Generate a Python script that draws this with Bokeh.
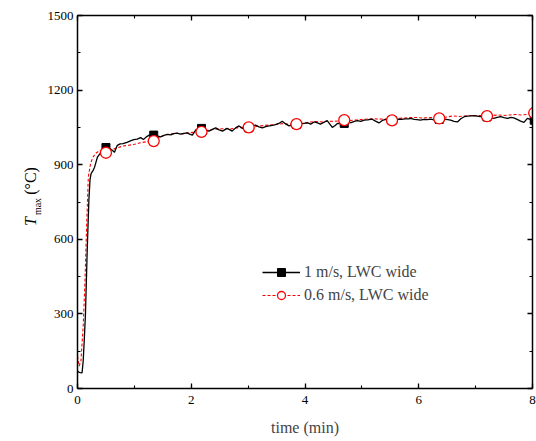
import math
from bokeh.plotting import figure
from bokeh.layouts import row
from bokeh.models import (LinearAxis, SingleIntervalTicker, Range1d, Legend,
                          LegendItem, Label)
from bokeh.embed import file_html
from bokeh.resources import INLINE

# ---- data ----
t_black = [0.00, 0.02, 0.05, 0.08, 0.10, 0.12, 0.14, 0.17, 0.20, 0.22, 0.24, 0.27,
           0.30, 0.35, 0.40, 0.45, 0.50, 0.55, 0.60, 0.65, 0.70, 0.75, 0.80, 0.87,
           0.93, 0.99, 1.05, 1.11, 1.16, 1.21, 1.26, 1.34, 1.40, 1.46, 1.52, 1.58,
           1.64, 1.69, 1.75, 1.81, 1.87, 1.93, 1.98, 2.02, 2.08, 2.16, 2.24, 2.31,
           2.37, 2.43, 2.49, 2.55, 2.63, 2.68, 2.72, 2.78, 2.84, 2.90, 2.95, 3.01,
           3.07, 3.13, 3.19, 3.25, 3.31, 3.37, 3.43, 3.48, 3.54, 3.60, 3.66, 3.72,
           3.78, 3.85, 3.92, 3.98, 4.05, 4.10, 4.16, 4.22, 4.27, 4.33, 4.39, 4.44,
           4.48, 4.53, 4.57, 4.63, 4.70, 4.76, 4.81, 4.87, 4.92, 4.98, 5.04, 5.10,
           5.18, 5.24, 5.30, 5.36, 5.42, 5.47, 5.52, 5.58, 5.64, 5.70, 5.76, 5.82,
           5.86, 5.92, 5.97, 6.03, 6.09, 6.15, 6.21, 6.27, 6.33, 6.39, 6.45, 6.51,
           6.56, 6.62, 6.68, 6.74, 6.80, 6.86, 6.92, 6.97, 7.03, 7.09, 7.15, 7.20,
           7.26, 7.32, 7.38, 7.44, 7.50, 7.56, 7.62, 7.67, 7.73, 7.79, 7.85, 7.91,
           7.96, 8.00]
T_black = [70, 66, 64, 63, 110, 200, 300, 550, 757, 840, 865, 875,
           890, 930, 946, 960, 970, 968, 960, 950, 978, 984, 985, 990,
           996, 1001, 1003, 1009, 1001, 1012, 1019, 1020, 1016, 1012, 1018, 1022,
           1020, 1025, 1027, 1023, 1026, 1028, 1022, 1019, 1040, 1046, 1040, 1035,
           1042, 1048, 1040, 1035, 1046, 1040, 1035, 1048, 1056, 1046, 1043, 1050,
           1055, 1059, 1052, 1048, 1053, 1056, 1058, 1061, 1066, 1075, 1064, 1056,
           1060, 1062, 1064, 1066, 1068, 1063, 1072, 1068, 1063, 1070, 1077, 1062,
           1050, 1058, 1066, 1064, 1066, 1070, 1069, 1074, 1077, 1074, 1079, 1080,
           1083, 1075, 1068, 1078, 1082, 1080, 1079, 1081, 1083, 1082, 1084, 1084,
           1086, 1082, 1081, 1079, 1082, 1081, 1083, 1080, 1084, 1082, 1083, 1081,
           1079, 1074, 1072, 1085, 1093, 1095, 1096, 1097, 1095, 1093, 1091, 1093,
           1088, 1086, 1090, 1093, 1089, 1086, 1090, 1088, 1082, 1075, 1070, 1086,
           1082, 1080]

t_red = [0.00, 0.03, 0.06, 0.10, 0.13, 0.16, 0.19, 0.23, 0.27, 0.32, 0.40, 0.50,
         0.60, 0.70, 0.80, 0.90, 1.00, 1.10, 1.20, 1.34, 1.45, 1.55, 1.65, 1.75,
         1.85, 1.95, 2.05, 2.18, 2.30, 2.40, 2.50, 2.60, 2.70, 2.80, 2.90, 3.01,
         3.10, 3.20, 3.30, 3.40, 3.50, 3.60, 3.70, 3.85, 4.00, 4.10, 4.20, 4.30,
         4.40, 4.50, 4.60, 4.69, 4.80, 4.90, 5.00, 5.10, 5.20, 5.30, 5.40, 5.53,
         5.65, 5.75, 5.85, 5.95, 6.05, 6.15, 6.25, 6.36, 6.50, 6.60, 6.70, 6.80,
         6.90, 7.00, 7.10, 7.20, 7.30, 7.40, 7.50, 7.60, 7.70, 7.80, 7.90, 8.00]
T_red = [130, 90, 110, 250, 420, 650, 850, 905, 930, 946, 958, 948,
         960, 968, 975, 978, 982, 988, 992, 995, 1012, 1020, 1024, 1026,
         1024, 1028, 1030, 1032, 1038, 1042, 1044, 1045, 1044, 1048, 1050, 1050,
         1052, 1056, 1058, 1060, 1062, 1065, 1063, 1063, 1068, 1072, 1074, 1072,
         1075, 1074, 1076, 1079, 1078, 1080, 1082, 1084, 1085, 1083, 1084, 1078,
         1086, 1088, 1090, 1090, 1088, 1089, 1090, 1086, 1092, 1096, 1094, 1096,
         1098, 1097, 1098, 1095, 1098, 1100, 1098, 1100, 1102, 1100, 1102, 1108]

t_marks = [0.50, 1.34, 2.18, 3.01, 3.85, 4.69, 5.53, 6.36, 7.20, 8.03]
T_sq = [969, 1019, 1046, 1048, 1062, 1066, 1078, 1082, 1092, 1079]
T_circ = [948, 995, 1032, 1050, 1063, 1079, 1078, 1086, 1095, 1108]

label_black = "1 m/s, LWC wide"
label_red = "0.6 m/s, LWC wide"
x_title = "time (min)"
y_title_main = "T"
y_title_sub = "max"
y_title_unit = "(°C)"

FONT = "Liberation Serif"
LW = 43  # width of the strip carrying the y-axis title

p = figure(width=536 - LW, height=441, output_backend="svg", toolbar_location=None,
           x_range=Range1d(0, 8), y_range=Range1d(0, 1500),
           min_border_left=77 - LW, min_border_right=4, min_border_top=15,
           min_border_bottom=53, x_axis_location=None, y_axis_location=None)
p.xgrid.visible = False
p.ygrid.visible = False
p.outline_line_color = None
p.background_fill_color = "white"
p.border_fill_color = "white"

def make_axis(ticker_interval, show_labels):
    ax = LinearAxis(ticker=SingleIntervalTicker(interval=ticker_interval, num_minor_ticks=2))
    ax.axis_line_width = 1.5
    ax.axis_line_color = "black"
    ax.major_tick_in = 5
    ax.major_tick_out = 0
    ax.minor_tick_in = 3
    ax.minor_tick_out = 0
    ax.major_tick_line_width = 1.3
    ax.minor_tick_line_width = 1.1
    ax.major_tick_line_color = "black"
    ax.minor_tick_line_color = "black"
    if show_labels:
        ax.major_label_text_font = FONT
        ax.major_label_text_font_size = "13px"
        ax.major_label_text_color = "black"
        ax.major_label_standoff = 7
    else:
        ax.major_label_text_font_size = "0px"
        ax.major_label_standoff = 0
        ax.major_label_text_alpha = 0
    return ax

xb = make_axis(2, True)
xb.axis_label = x_title
xb.axis_label_text_font = FONT
xb.axis_label_text_font_style = "normal"
xb.axis_label_text_font_size = "16px"
xb.axis_label_standoff = 12
p.add_layout(xb, "below")
yl = make_axis(300, True)
yl.major_label_standoff = 4
p.add_layout(yl, "left")
p.add_layout(make_axis(2, False), "above")
p.add_layout(make_axis(300, False), "right")

r_red = p.line(t_red, T_red, line_color="red", line_width=1.1, line_dash="3 2")
r_blk = p.line(t_black, T_black, line_color="black", line_width=1.3)
r_sq = p.scatter(t_marks, T_sq, marker="square", size=8, fill_color="black",
                 line_color="black")
r_ci = p.scatter(t_marks, T_circ, marker="circle", size=11, fill_color="white",
                 line_color="red", line_width=1.3)

legend = Legend(items=[LegendItem(label=label_black, renderers=[r_blk, r_sq]),
                       LegendItem(label=label_red, renderers=[r_red, r_ci])],
                location=(185, 83))
legend.border_line_color = None
legend.background_fill_alpha = 0
legend.label_text_font = FONT
legend.label_text_font_size = "16px"
legend.glyph_width = 38
legend.glyph_height = 20
legend.label_height = 20
legend.label_standoff = 4
legend.spacing = 3
legend.padding = 5
legend.margin = 0
p.add_layout(legend, "center")

# ---- strip with the y-axis title: T_max (°C) ----
q = figure(width=LW, height=441, output_backend="svg", toolbar_location=None,
           x_range=Range1d(0, LW), y_range=Range1d(0, 441),
           min_border=0, x_axis_location=None, y_axis_location=None)
q.xgrid.visible = False
q.ygrid.visible = False
q.outline_line_color = None
q.background_fill_color = "white"
q.border_fill_color = "white"

q.add_layout(Label(x=30, y=441 - 249, text=y_title_main, angle=math.pi / 2,
                   text_font=FONT, text_font_style="italic", text_font_size="16px",
                   text_baseline="alphabetic", text_align="left", text_color="black"))
q.add_layout(Label(x=37, y=441 - 236, text=y_title_sub, angle=math.pi / 2,
                   text_font=FONT, text_font_size="10px",
                   text_baseline="alphabetic", text_align="left", text_color="black"))
q.add_layout(Label(x=30, y=441 - 212, text=y_title_unit, angle=math.pi / 2,
                   text_font=FONT, text_font_size="16px",
                   text_baseline="alphabetic", text_align="left", text_color="black"))

layout = row(q, p, spacing=0)
open("out.html", "w").write(file_html(layout, INLINE))
